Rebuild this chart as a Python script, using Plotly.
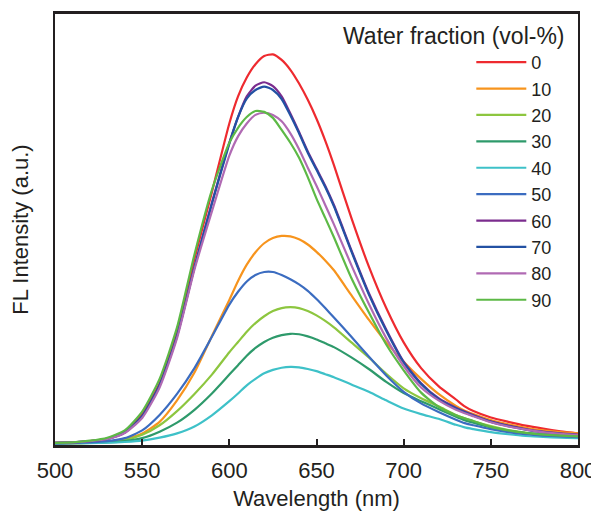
import plotly.graph_objects as go

wavelength = [500, 510, 520, 530, 540, 550, 560, 570, 580, 590, 600, 605, 610, 615, 620, 625,
              630, 635, 640, 645, 650, 655, 660, 670, 680, 690, 700, 710, 720, 730, 735, 740,
              750, 760, 770, 780, 790, 800]

water_fractions = ["0", "10", "20", "30", "40", "50", "60", "70", "80", "90"]

fl_0 = [0.1, 0.2, 0.5, 1.1, 2.7, 6.8, 14, 26, 43, 58.5, 74.5, 80.8, 85.2, 88.3, 90.2, 90.6,
        89.3, 87, 83.8, 80, 75.6, 70.5, 64.8, 52.5, 41.2, 31.5, 23.5, 17.5, 13.3, 10.2, 8.6, 7.5,
        6, 5, 4.1, 3.4, 2.8, 2.3]
fl_10 = [0, 0.05, 0.15, 0.4, 1.0, 2.3, 5, 10, 16.5, 25, 33.4, 37.8, 41.6, 44.5, 46.6, 47.8,
         48.3, 48.2, 47.5, 46.3, 44.6, 42.6, 40.3, 34.5, 28.8, 23.5, 19, 15, 11.5, 8.7, 7.6, 6.8,
         5.4, 4.4, 3.6, 3.0, 2.6, 2.3]
fl_20 = [0, 0.03, 0.1, 0.3, 0.8, 2, 4.2, 7.5, 11.5, 16, 21.2, 23.6, 26, 28, 29.6, 30.8,
         31.5, 31.7, 31.5, 30.8, 29.8, 28.5, 27, 23.5, 20, 16.2, 12.8, 10.5, 8.6, 6.6, 5.8, 5.1,
         4, 3.1, 2.5, 2.1, 1.8, 1.6]
fl_30 = [0, 0.02, 0.08, 0.2, 0.5, 1.2, 2.7, 4.8, 7.8, 11.6, 16, 18.2, 20.4, 22.2, 23.6, 24.6,
         25.2, 25.5, 25.4, 24.9, 24.2, 23.3, 22.4, 20, 17.3, 14.3, 11.7, 9.8, 8, 6.2, 5.4, 4.8,
         3.7, 2.9, 2.4, 2.0, 1.7, 1.5]
fl_40 = [0, 0.01, 0.04, 0.12, 0.3, 0.6, 1.3, 2.3, 3.9, 6.5, 9.8, 11.6, 13.5, 15, 16.3, 17.1,
         17.6, 17.8, 17.7, 17.3, 16.8, 16.1, 15.4, 13.7, 12, 10, 8.1, 6.8, 5.7, 4.3, 3.7, 3.3,
         2.6, 2.1, 1.7, 1.5, 1.3, 1.2]
fl_50 = [0, 0.05, 0.2, 0.5, 1.2, 3, 6.6, 11.5, 17.5, 24.8, 32.3, 35.3, 37.7, 39.2, 39.9, 39.9,
         39.2, 38.2, 37.0, 35.5, 33.6, 31.5, 29.3, 24.8, 20.2, 15.8, 12.0, 9.3, 7.3, 5.5, 4.7, 4.2,
         3.3, 2.6, 2.1, 1.8, 1.6, 1.4]
fl_60 = [0.1, 0.2, 0.5, 1.0, 2.5, 6.3, 13.5, 25, 41, 56, 70, 76, 80.8, 83.3, 84.1, 83.2,
         80.8, 76.8, 72.5, 68, 64, 60, 55.5, 45, 35, 26.5, 19, 14, 10.5, 8.3, 7.4, 6.6,
         5.1, 4.1, 3.3, 2.7, 2.3, 2.0]
fl_70 = [0.1, 0.2, 0.5, 1.0, 2.5, 6.3, 13.5, 25, 41, 55.8, 69.8, 76, 80.3, 82.3, 83.1, 82.3,
         80.2, 76.4, 72.2, 67.7, 63.7, 59.7, 55.2, 44.7, 34.7, 26.2, 18.8, 13.8, 10.3, 8.1, 7.2, 6.4,
         5.0, 4.0, 3.2, 2.6, 2.2, 1.9]
fl_80 = [0.1, 0.2, 0.5, 1.0, 2.4, 5.9, 13, 24.5, 40.5, 54, 67, 71.5, 74.5, 76.5, 77.0, 76.5,
         75, 72.2, 68.5, 64.2, 60, 55.5, 51, 41.5, 32.5, 24.5, 18, 13, 10, 7.8, 7, 6.3,
         4.9, 3.9, 3.2, 2.6, 2.2, 1.9]
fl_90 = [0.1, 0.2, 0.6, 1.3, 3.0, 7.4, 15, 27, 44, 59, 70, 73.5, 76, 77.4, 77.2, 75.8,
         73, 70, 66.5, 62, 57, 52.5, 48, 38.5, 30.5, 23, 17, 11.8, 8.5, 6.5, 5.8, 5.2,
         3.8, 3.0, 2.4, 2.0, 1.8, 1.6]

series = [fl_0, fl_10, fl_20, fl_30, fl_40, fl_50, fl_60, fl_70, fl_80, fl_90]
colors = ["#EE2A2F", "#F7941D", "#8DC63F", "#2E9A6B", "#3EC1C8",
          "#3B6CC0", "#7B2C8E", "#2351A3", "#B06AB3", "#5DB946"]

x_ticks = [500, 550, 600, 650, 700, 750, 800]

FONT = "Arial, Liberation Sans, Helvetica, sans-serif"
INK = "#231F20"

fig = go.Figure()
for i in range(len(series)):
    fig.add_trace(go.Scatter(
        x=wavelength, y=series[i], mode="lines", name=water_fractions[i],
        line=dict(color=colors[i], width=2.2, shape="spline", smoothing=0.6),
    ))

# The page body has an 8px default margin, so the figure is 8px smaller
fig.update_layout(
    width=591, height=503,
    margin=dict(l=47, r=21, t=6, b=66),
    paper_bgcolor="white", plot_bgcolor="white",
    font=dict(family=FONT, color=INK, size=22),
    showlegend=True,
    legend=dict(
        x=0.796, xanchor="left", y=0.9305, yanchor="top",
        font=dict(size=18, family=FONT, color=INK),
        bgcolor="rgba(0,0,0,0)", borderwidth=0,
        traceorder="normal", itemwidth=50,
    ),
    annotations=[dict(
        text="Water fraction (vol-%)", xref="paper", yref="paper",
        x=0.979, y=0.949, xanchor="right", yanchor="middle",
        showarrow=False, font=dict(size=23, family=FONT, color=INK),
    )],
)

fig.update_xaxes(
    range=[500, 800], tickvals=x_ticks, ticktext=[str(v) for v in x_ticks],
    showline=True, linewidth=2.5, linecolor=INK, mirror=True,
    ticks="inside", ticklen=6, tickwidth=2, tickcolor=INK,
    ticklabelstandoff=4,
    showgrid=False, zeroline=False,
    tickfont=dict(size=22, family=FONT, color=INK),
    title=dict(text="Wavelength (nm)", font=dict(size=22, family=FONT, color=INK), standoff=9),
    automargin=False,
)
fig.update_yaxes(
    range=[-0.4, 100],
    showline=True, linewidth=2, linecolor=INK, mirror=True,
    ticks="", showticklabels=False, showgrid=False, zeroline=False,
    title=dict(text="FL Intensity (a.u.)", font=dict(size=22, family=FONT, color=INK), standoff=18),
    automargin=False,
)

fig.write_html("out.html")
